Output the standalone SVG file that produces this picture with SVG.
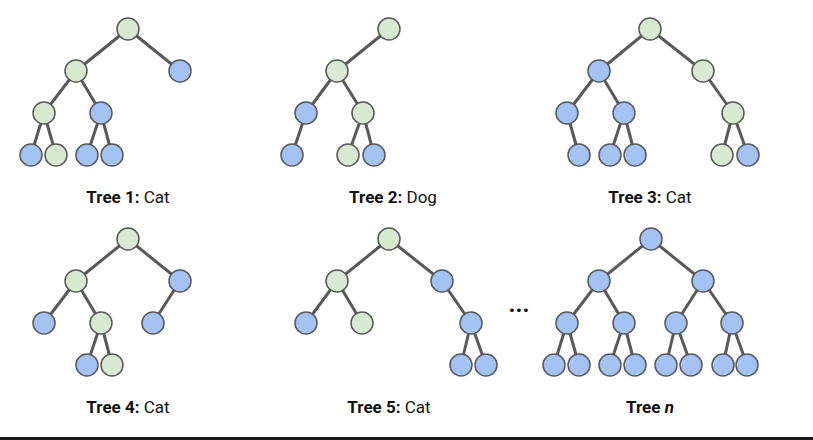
<svg xmlns="http://www.w3.org/2000/svg" width="813" height="440" viewBox="0 0 813 440">
<style>
.e line{stroke:#595959;stroke-width:3}
.g{fill:#d9ead3;stroke:#595959;stroke-width:1.5}
.b{fill:#a4c2f4;stroke:#595959;stroke-width:1.5}
.lbl{font-family:Roboto,"Liberation Sans",sans-serif;font-size:17px;fill:#111;text-anchor:middle}
.bd{font-weight:bold}
</style>
<rect width="813" height="440" fill="#fff"/>
<g id="connectors" class="e">
<!-- Tree 1 -->
<line x1="128" y1="29" x2="76" y2="71"/><line x1="128" y1="29" x2="180" y2="71"/>
<line x1="76" y1="71" x2="44" y2="113"/><line x1="76" y1="71" x2="101" y2="113"/>
<line x1="44" y1="113" x2="31" y2="155"/><line x1="44" y1="113" x2="56" y2="155"/>
<line x1="101" y1="113" x2="87" y2="155"/><line x1="101" y1="113" x2="112" y2="155"/>
<!-- Tree 2 -->
<line x1="389" y1="29" x2="337" y2="71"/>
<line x1="337" y1="71" x2="306" y2="113"/><line x1="337" y1="71" x2="363" y2="113"/>
<line x1="306" y1="113" x2="292" y2="155"/>
<line x1="363" y1="113" x2="348" y2="155"/><line x1="363" y1="113" x2="374" y2="155"/>
<!-- Tree 3 -->
<line x1="650" y1="29" x2="599" y2="71"/><line x1="650" y1="29" x2="703" y2="71"/>
<line x1="599" y1="71" x2="567" y2="113"/><line x1="599" y1="71" x2="624" y2="113"/>
<line x1="703" y1="71" x2="733" y2="113"/>
<line x1="567" y1="113" x2="579" y2="155"/>
<line x1="624" y1="113" x2="610" y2="155"/><line x1="624" y1="113" x2="635" y2="155"/>
<line x1="733" y1="113" x2="722" y2="155"/><line x1="733" y1="113" x2="748" y2="155"/>
<!-- Tree 4 -->
<line x1="128" y1="239" x2="76" y2="281"/><line x1="128" y1="239" x2="180" y2="281"/>
<line x1="76" y1="281" x2="44" y2="323"/><line x1="76" y1="281" x2="101" y2="323"/>
<line x1="180" y1="281" x2="153" y2="323"/>
<line x1="101" y1="323" x2="87" y2="365"/><line x1="101" y1="323" x2="112" y2="365"/>
<!-- Tree 5 -->
<line x1="389" y1="239" x2="337" y2="281"/><line x1="389" y1="239" x2="442" y2="281"/>
<line x1="337" y1="281" x2="306" y2="323"/><line x1="337" y1="281" x2="362" y2="323"/>
<line x1="442" y1="281" x2="471" y2="323"/>
<line x1="471" y1="323" x2="461" y2="365"/><line x1="471" y1="323" x2="486" y2="365"/>
<!-- Tree n -->
<line x1="651" y1="239" x2="599" y2="281"/><line x1="651" y1="239" x2="703" y2="281"/>
<line x1="599" y1="281" x2="567" y2="323"/><line x1="599" y1="281" x2="624" y2="323"/>
<line x1="703" y1="281" x2="676" y2="323"/><line x1="703" y1="281" x2="732" y2="323"/>
<line x1="567" y1="323" x2="554" y2="365"/><line x1="567" y1="323" x2="579" y2="365"/>
<line x1="624" y1="323" x2="610" y2="365"/><line x1="624" y1="323" x2="635" y2="365"/>
<line x1="676" y1="323" x2="666" y2="365"/><line x1="676" y1="323" x2="691" y2="365"/>
<line x1="732" y1="323" x2="723" y2="365"/><line x1="732" y1="323" x2="747" y2="365"/>
</g>
<g id="tree1">
<circle class="g" cx="128" cy="29" r="11"/><circle class="g" cx="76" cy="71" r="11"/><circle class="b" cx="180" cy="71" r="11"/>
<circle class="g" cx="44" cy="113" r="11"/><circle class="b" cx="101" cy="113" r="11"/>
<circle class="b" cx="31" cy="155" r="11"/><circle class="g" cx="56" cy="155" r="11"/><circle class="b" cx="87" cy="155" r="11"/><circle class="b" cx="112" cy="155" r="11"/>
<text class="lbl" x="128" y="203"><tspan class="bd">Tree 1:</tspan> Cat</text>
</g>
<g id="tree2">
<circle class="g" cx="389" cy="29" r="11"/><circle class="g" cx="337" cy="71" r="11"/>
<circle class="b" cx="306" cy="113" r="11"/><circle class="g" cx="363" cy="113" r="11"/>
<circle class="b" cx="292" cy="155" r="11"/><circle class="g" cx="348" cy="155" r="11"/><circle class="b" cx="374" cy="155" r="11"/>
<text class="lbl" x="393" y="203"><tspan class="bd">Tree 2:</tspan> Dog</text>
</g>
<g id="tree3">
<circle class="g" cx="650" cy="29" r="11"/><circle class="b" cx="599" cy="71" r="11"/><circle class="g" cx="703" cy="71" r="11"/>
<circle class="b" cx="567" cy="113" r="11"/><circle class="b" cx="624" cy="113" r="11"/><circle class="g" cx="733" cy="113" r="11"/>
<circle class="b" cx="579" cy="155" r="11"/><circle class="b" cx="610" cy="155" r="11"/><circle class="b" cx="635" cy="155" r="11"/><circle class="g" cx="722" cy="155" r="11"/><circle class="b" cx="748" cy="155" r="11"/>
<text class="lbl" x="650" y="203"><tspan class="bd">Tree 3:</tspan> Cat</text>
</g>
<g id="tree4">
<circle class="g" cx="128" cy="239" r="11"/><circle class="g" cx="76" cy="281" r="11"/><circle class="b" cx="180" cy="281" r="11"/>
<circle class="b" cx="44" cy="323" r="11"/><circle class="g" cx="101" cy="323" r="11"/><circle class="b" cx="153" cy="323" r="11"/>
<circle class="b" cx="87" cy="365" r="11"/><circle class="g" cx="112" cy="365" r="11"/>
<text class="lbl" x="128" y="413"><tspan class="bd">Tree 4:</tspan> Cat</text>
</g>
<g id="tree5">
<circle class="g" cx="389" cy="239" r="11"/><circle class="g" cx="337" cy="281" r="11"/><circle class="b" cx="442" cy="281" r="11"/>
<circle class="b" cx="306" cy="323" r="11"/><circle class="g" cx="362" cy="323" r="11"/><circle class="b" cx="471" cy="323" r="11"/>
<circle class="b" cx="461" cy="365" r="11"/><circle class="b" cx="486" cy="365" r="11"/>
<text class="lbl" x="389" y="413"><tspan class="bd">Tree 5:</tspan> Cat</text>
</g>
<g id="ellipsis">
<text class="lbl bd" x="519" y="312" style="font-size:24px">...</text>
</g>
<g id="treen">
<circle class="b" cx="651" cy="239" r="11"/><circle class="b" cx="599" cy="281" r="11"/><circle class="b" cx="703" cy="281" r="11"/>
<circle class="b" cx="567" cy="323" r="11"/><circle class="b" cx="624" cy="323" r="11"/><circle class="b" cx="676" cy="323" r="11"/><circle class="b" cx="732" cy="323" r="11"/>
<circle class="b" cx="554" cy="365" r="11"/><circle class="b" cx="579" cy="365" r="11"/><circle class="b" cx="610" cy="365" r="11"/><circle class="b" cx="635" cy="365" r="11"/>
<circle class="b" cx="666" cy="365" r="11"/><circle class="b" cx="691" cy="365" r="11"/><circle class="b" cx="723" cy="365" r="11"/><circle class="b" cx="747" cy="365" r="11"/>
<text class="lbl bd" x="650" y="413">Tree <tspan font-style="italic">n</tspan></text>
</g>
<rect x="0" y="437" width="813" height="3" fill="#1a1a1a"/>
</svg>
